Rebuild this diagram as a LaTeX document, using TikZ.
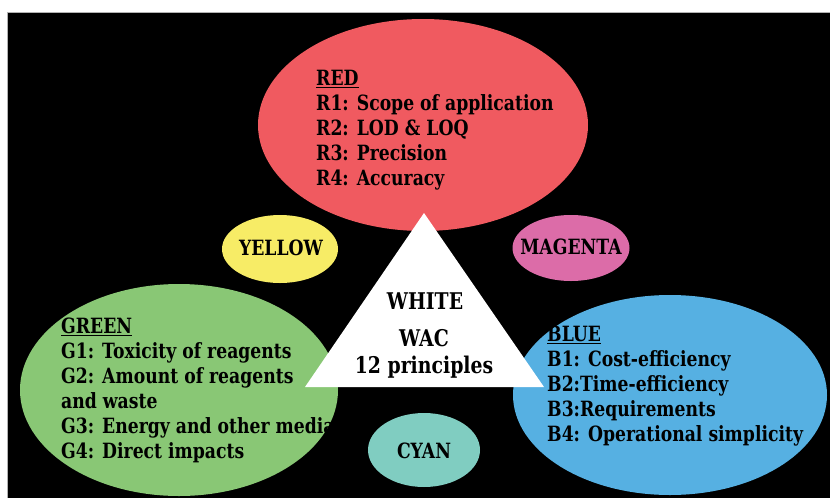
\documentclass[tikz,border=0pt]{standalone}
\usepackage{fontspec}
\setmainfont{DejaVu Serif}[FakeStretch=0.82]
\usetikzlibrary{shapes.geometric}
\definecolor{cred}{RGB}{240,90,96}
\definecolor{cyellow}{RGB}{247,236,102}
\definecolor{cmagenta}{RGB}{220,108,168}
\definecolor{cgreen}{RGB}{137,199,117}
\definecolor{cblue}{RGB}{86,176,226}
\definecolor{ccyan}{RGB}{128,205,193}
\begin{document}
\begin{tikzpicture}[x=1pt,y=-1pt,
  blob/.style={ellipse, inner sep=0pt, draw=none},
  txt/.style={font=\fontsize{21}{25}\selectfont\bfseries, text=black, align=left, inner sep=0pt},
  lbl/.style={font=\fontsize{21}{25}\selectfont\bfseries, text=black, align=center, inner sep=0pt},
  big/.style={font=\fontsize{23}{27}\selectfont\bfseries, text=black, align=center, inner sep=0pt}]
\useasboundingbox (0,0) rectangle (830,498);
\fill[white] (0,0) rectangle (830,498);
\fill[black] (7,12) rectangle (830,498);
\draw[gray!60, line width=0.8pt] (7,498) -- (7,12) -- (830,12);
% ellipses
\node[blob, fill=cred, minimum width=330pt, minimum height=212pt] (red) at (423,125) {};
\node[blob, fill=cyellow, minimum width=116pt, minimum height=68pt] (yellow) at (280,249) {};
\node[blob, fill=cmagenta, minimum width=117pt, minimum height=66pt] (magenta) at (571,248) {};
\node[blob, fill=cgreen, minimum width=318pt, minimum height=212pt] (green) at (179,390) {};
\node[blob, fill=cblue, minimum width=314pt, minimum height=200pt] (blue) at (670,395) {};
\node[blob, fill=ccyan, minimum width=112pt, minimum height=74pt] (cyan) at (424,450) {};
% triangle
\coordinate (tA) at (424,213);
\coordinate (tB) at (305,387);
\coordinate (tC) at (544,387);
\fill[white] (tA) -- (tB) -- (tC) -- cycle;
% texts
\node[txt, anchor=west] (redtext) at (316,130) {\underline{RED}\\R1: Scope of application\\R2: LOD \& LOQ\\R3: Precision\\R4: Accuracy};
\node[txt, anchor=west] (greentext) at (61,390) {\underline{GREEN}\\G1: Toxicity of reagents\\G2: Amount of reagents\\and waste\\G3: Energy and other media\\G4: Direct impacts};
\node[txt, anchor=west] (bluetext) at (547,386) {\underline{BLUE}\\B1: Cost-efficiency\\B2:Time-efficiency\\B3:Requirements\\B4: Operational simplicity};
\node[lbl] (ylbl) at (281,248) {YELLOW};
\node[lbl] (mlbl) at (571,247) {MAGENTA};
\node[lbl] (clbl) at (424,451) {CYAN};
\node[big] (wlbl) at (425,301) {WHITE};
\node[big] (wac) at (424,354) {WAC\\12 principles};
\end{tikzpicture}
\end{document}
